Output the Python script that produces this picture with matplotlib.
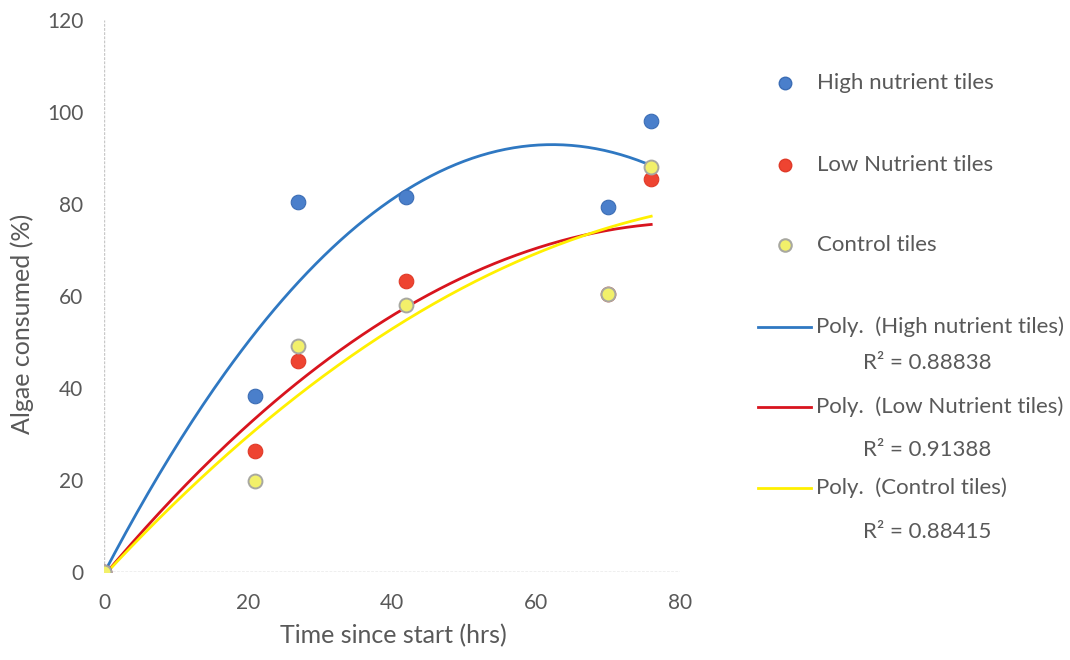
import numpy as np
import matplotlib.pyplot as plt
from matplotlib.lines import Line2D

# === Data ===
hours = [0, 21, 27, 42, 70, 76]
high_nutrient = [0, 38.3, 80.5, 81.5, 79.3, 98.0]
low_nutrient = [0, 26.3, 45.8, 63.2, 60.5, 85.5]
control = [0, 19.8, 49.2, 58.0, 60.5, 88.0]

series_names = ["High nutrient tiles", "Low Nutrient tiles", "Control tiles"]
r2_labels = ["R² = 0.88838", "R² = 0.91388", "R² = 0.88415"]

plt.rcParams['font.family'] = ['Lato', 'DejaVu Sans']
grey = '#595959'

fig = plt.figure(figsize=(10.7, 6.6), dpi=100)
ax = fig.add_axes([104 / 1070, 1 - 572 / 660, 576 / 1070, 552 / 660])

# scatter points (later series drawn on top, like Excel)
ax.scatter(hours, high_nutrient, s=110, color='#4a7fcb', edgecolor='#3b6db5', linewidth=0.8, zorder=3)
ax.scatter(hours, low_nutrient, s=110, color='#ee4431', edgecolor='#e03a28', linewidth=0.8, zorder=3)
ax.scatter(hours, control, s=100, color='#f2f06a', edgecolor='#a8a8a0', linewidth=1.4, zorder=3)

# === Polynomial (order 2) trendlines ===
xs = np.linspace(0, 76, 200)
for ys, col in [(high_nutrient, '#2f78c2'), (low_nutrient, '#d8141e'), (control, '#fff000')]:
    coef = np.polyfit(hours, ys, 2)
    ax.plot(xs, np.polyval(coef, xs), color=col, lw=2.0, zorder=2)

ax.set_xlim(0, 80)
ax.set_ylim(0, 120)
ax.set_xticks([0, 20, 40, 60, 80])
ax.set_yticks([0, 20, 40, 60, 80, 100, 120])
ax.tick_params(length=0, labelsize=15, labelcolor=grey, pad=15)
for s in ax.spines.values():
    s.set_visible(False)
ax.axhline(0, color='#b0b0b0', lw=1, ls=(0, (2, 1)), zorder=1)
ax.axvline(0, color='#c8c8c8', lw=1, ls=(0, (2, 1)), zorder=1)
ax.set_xlabel("Time since start (hrs)", fontsize=18, color=grey, va='center')
ax.set_ylabel("Algae consumed (%)", fontsize=18, color=grey, va='center')
ax.xaxis.set_label_coords(0.502, -0.116)
ax.yaxis.set_label_coords(-0.142, 0.449)

# === Legend drawn by hand on the right ===
def fx(px):
    return px / 1070

def fy(py):
    return 1 - py / 660

mk = [('#4a7fcb', '#3b6db5', 1.0), ('#ee4431', '#e03a28', 1.0), ('#f2f06a', '#a8a8a0', 1.5)]
for i, (name, (fc, ec, ew)) in enumerate(zip(series_names, mk)):
    y = [83, 165, 245][i]
    fig.add_artist(Line2D([fx(785)], [fy(y)], marker='o', markersize=9, color=fc,
                          markeredgecolor=ec, markeredgewidth=ew, transform=fig.transFigure))
    fig.text(fx(817), fy(y), name, fontsize=16, color=grey, va='center')

line_cols = ['#2f78c2', '#d8141e', '#fff000']
for i, (name, r2, col) in enumerate(zip(series_names, r2_labels, line_cols)):
    y = [327, 407, 488][i]
    fig.add_artist(Line2D([fx(758), fx(811)], [fy(y), fy(y)], color=col, lw=2.0,
                          transform=fig.transFigure))
    fig.text(fx(816), fy(y), "Poly.  (" + name + ")", fontsize=16, color=grey, va='center')
    fig.text(fx(927), fy([363, 450, 532][i]), r2, fontsize=16, color=grey, va='center', ha='center')

fig.savefig("out.png", dpi=100)
